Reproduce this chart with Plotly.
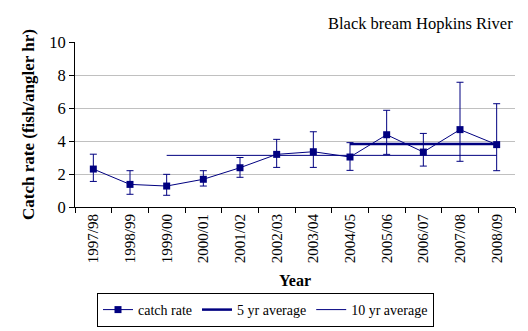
import plotly.graph_objects as go

years = ["1997/98", "1998/99", "1999/00", "2000/01", "2001/02", "2002/03",
         "2003/04", "2004/05", "2005/06", "2006/07", "2007/08", "2008/09"]
catch_rate = [2.3, 1.37, 1.27, 1.68, 2.38, 3.19, 3.35, 3.03, 4.38, 3.33, 4.69, 3.78]
err_upper = [3.2, 2.2, 1.98, 2.2, 3.0, 4.1, 4.56, 3.9, 5.86, 4.46, 7.56, 6.26]
err_lower = [1.55, 0.77, 0.71, 1.27, 1.8, 2.4, 2.4, 2.22, 3.19, 2.48, 2.77, 2.2]
avg5_years = ["2004/05", "2008/09"]
avg5 = [3.82, 3.82]
avg10_years = ["1999/00", "2008/09"]
avg10 = [3.13, 3.13]

navy = "#000080"
font = "Liberation Serif"

fig = go.Figure()
fig.add_trace(go.Scatter(
    x=years, y=catch_rate, mode="lines+markers", name="catch rate",
    line=dict(color=navy, width=1),
    marker=dict(symbol="square", size=7, color=navy),
    error_y=dict(type="data", symmetric=False,
                 array=[u - v for u, v in zip(err_upper, catch_rate)],
                 arrayminus=[v - d for v, d in zip(catch_rate, err_lower)],
                 color=navy, thickness=1, width=3.5),
))
fig.add_trace(go.Scatter(x=avg5_years, y=avg5, mode="lines", name="5 yr average",
                         line=dict(color=navy, width=2.5)))
fig.add_trace(go.Scatter(x=avg10_years, y=avg10, mode="lines", name="10 yr average",
                         line=dict(color=navy, width=1)))

fig.update_layout(
    width=528, height=331,
    margin=dict(l=75, r=13, t=42, b=124),
    plot_bgcolor="white", paper_bgcolor="white",
    font=dict(family=font, size=15, color="black"),
    showlegend=True,
    legend=dict(orientation="h", xref="container", yref="container",
                x=97 / 528, xanchor="left", y=1 - 293 / 331, yanchor="top",
                bordercolor="black", borderwidth=1, font=dict(size=14),
                itemwidth=30, tracegroupgap=0),
    annotations=[dict(text="Black bream Hopkins River", xref="paper", yref="paper",
                      x=1, xanchor="right", y=1 + 18.5 / 165, yanchor="middle",
                      showarrow=False, font=dict(size=16.5))],
)
fig.update_xaxes(
    type="category", range=[-0.5, 11.5], tickangle=-90, automargin=False,
    ticks="outside", tickson="boundaries", ticklen=5, tickcolor="black",
    showline=True, linecolor="black", linewidth=1, showgrid=False,
    title=dict(text="<b>Year</b>", font=dict(size=16), standoff=12),
    tickfont=dict(size=15),
)
fig.update_yaxes(
    range=[0, 10], dtick=2, ticks="outside", ticklen=5, tickcolor="black",
    showline=True, linecolor="black", linewidth=1, automargin=False,
    showgrid=True, gridcolor="#c0c0c0", zeroline=False,
    title=dict(text="<b>Catch rate (fish/angler hr)</b>", font=dict(size=17), standoff=10),
    tickfont=dict(size=16.5),
)

fig.write_html("out.html", config={"displayModeBar": False},
               post_script="document.body.style.margin='0';")
